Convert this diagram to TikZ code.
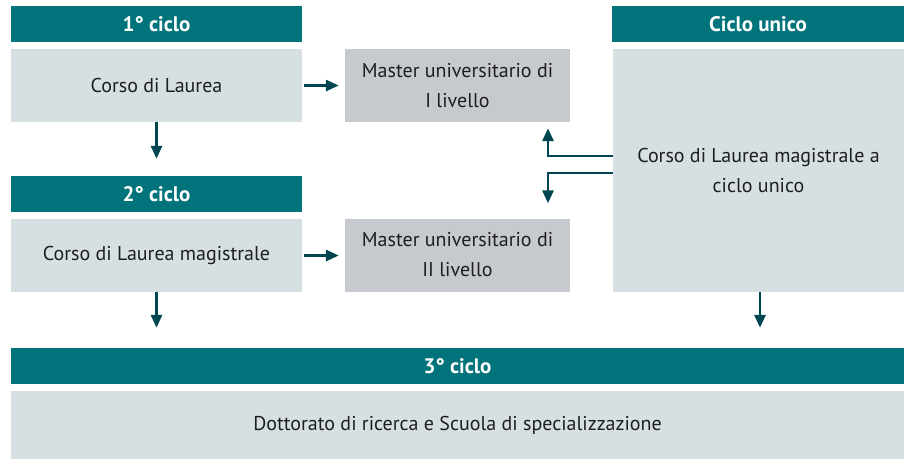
\documentclass[tikz,border=0pt]{standalone}
\usepackage{fontspec}
\setmainfont{PT Sans}
\usetikzlibrary{arrows.meta}
\definecolor{headteal}{RGB}{0,116,122}
\definecolor{boxlight}{RGB}{214,223,226}
\definecolor{boxgray}{RGB}{198,201,206}
\definecolor{arrowdark}{RGB}{0,70,80}
\definecolor{txtdark}{RGB}{30,30,30}
\tikzset{
  headbar/.style={fill=headteal,text=white,font=\fontsize{21}{24}\selectfont\bfseries,inner sep=0pt,minimum height=36pt},
  lightbox/.style={fill=boxlight,text=txtdark,font=\fontsize{20}{30}\selectfont,inner sep=0pt,align=center},
  graybox/.style={fill=boxgray,text=txtdark,font=\fontsize{20}{30}\selectfont,inner sep=0pt,align=center,minimum width=225pt,minimum height=73pt},
  conn/.style={draw=arrowdark,line width=2.8pt,-{Triangle[length=13pt,width=11pt]}}
}
\begin{document}
\begin{tikzpicture}[x=1pt,y=-1pt]
\useasboundingbox (0,0) rectangle (909,459);
\node[headbar,minimum width=291pt] (h1) at (156.5,24) {1° ciclo};
\node[lightbox,minimum width=291pt,minimum height=73pt] (b1) at (156.5,85.5) {Corso di Laurea};
\node[graybox] (m1) at (457.5,85.5) {Master universitario di\\I livello};
\node[headbar,minimum width=292pt] (hu) at (758,24) {Ciclo unico};
\node[lightbox,minimum width=291pt,minimum height=243pt] (bu) at (758.5,170.5) {Corso di Laurea magistrale a\\ciclo unico};
\node[headbar,minimum width=291pt] (h2) at (156.5,194) {2° ciclo};
\node[lightbox,minimum width=291pt,minimum height=73pt] (b2) at (156.5,255.5) {Corso di Laurea magistrale};
\node[graybox] (m2) at (457.5,255) {Master universitario di\\II livello};
\node[headbar,minimum width=893pt] (h3) at (457.5,366) {3° ciclo};
\node[lightbox,minimum width=893pt,minimum height=68pt] (b3) at (457.5,425) {Dottorato di ricerca e Scuola di specializzazione};
\coordinate (eu) at (548,156);
\coordinate (ed) at (548,173);
\coordinate (du) at (760,0);
\draw[conn,shorten <=2pt,shorten >=6pt] (b1.east) -- (m1.west);
\draw[conn,shorten <=2pt,shorten >=6pt] (b2.east) -- (b2.east -| m2.west);
\draw[conn,shorten >=17pt] (b1.south) -- (h2.north);
\draw[conn,shorten >=20pt] (b2.south) -- (b2.south |- h3.north);
\draw[conn,shorten >=20pt] (bu.south -| du) -- (h3.north -| du);
\draw[conn,shorten >=6pt] (bu.west |- eu) -- (eu) -- (m1.south -| eu);
\draw[conn,shorten >=15pt] (bu.west |- ed) -- (ed) -- (m2.north -| ed);
\end{tikzpicture}
\end{document}
